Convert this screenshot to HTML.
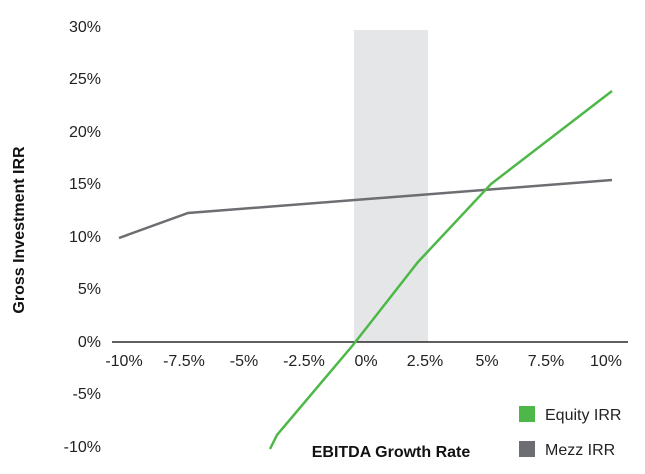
<!DOCTYPE html>
<html><head><style>
body{margin:0;background:#fff;}
svg text{font-family:"Liberation Sans",sans-serif;}
</style></head><body>
<svg width="645" height="469" viewBox="0 0 645 469" xmlns="http://www.w3.org/2000/svg">
<rect x="354" y="30" width="74" height="312" fill="#e5e6e8"/>
<line x1="112" y1="342" x2="628" y2="342" stroke="#000" stroke-width="1.3"/>
<g font-size="16" fill="#222" text-anchor="end">
<text x="101" y="32">30%</text>
<text x="101" y="84">25%</text>
<text x="101" y="137">20%</text>
<text x="101" y="189">15%</text>
<text x="101" y="242">10%</text>
<text x="101" y="294">5%</text>
<text x="101" y="347">0%</text>
<text x="101" y="399">-5%</text>
<text x="101" y="452">-10%</text>
</g>
<g font-size="16" fill="#222" text-anchor="middle">
<text x="124" y="366">-10%</text>
<text x="184" y="366">-7.5%</text>
<text x="244" y="366">-5%</text>
<text x="304" y="366">-2.5%</text>
<text x="366" y="366">0%</text>
<text x="425" y="366">2.5%</text>
<text x="487" y="366">5%</text>
<text x="546" y="366">7.5%</text>
<text x="606" y="366">10%</text>
</g>
<polyline points="119,238 188,213 612,180" fill="none" stroke="#6d6e71" stroke-width="2.5"/>
<polyline points="270,449 277,435 353,345 418,262 491,184 612,91" fill="none" stroke="#4db848" stroke-width="2.5"/>
<text x="391" y="457" font-size="16" font-weight="bold" text-anchor="middle" fill="#111">EBITDA Growth Rate</text>
<text transform="translate(24,230) rotate(-90)" font-size="16" font-weight="bold" text-anchor="middle" fill="#111">Gross Investment IRR</text>
<rect x="519" y="406" width="16" height="16" fill="#4db848"/>
<text x="545" y="420" font-size="16" fill="#222">Equity IRR</text>
<rect x="519" y="441" width="16" height="16" fill="#6d6e71"/>
<text x="545" y="455" font-size="16" fill="#222">Mezz IRR</text>
</svg>
</body></html>
